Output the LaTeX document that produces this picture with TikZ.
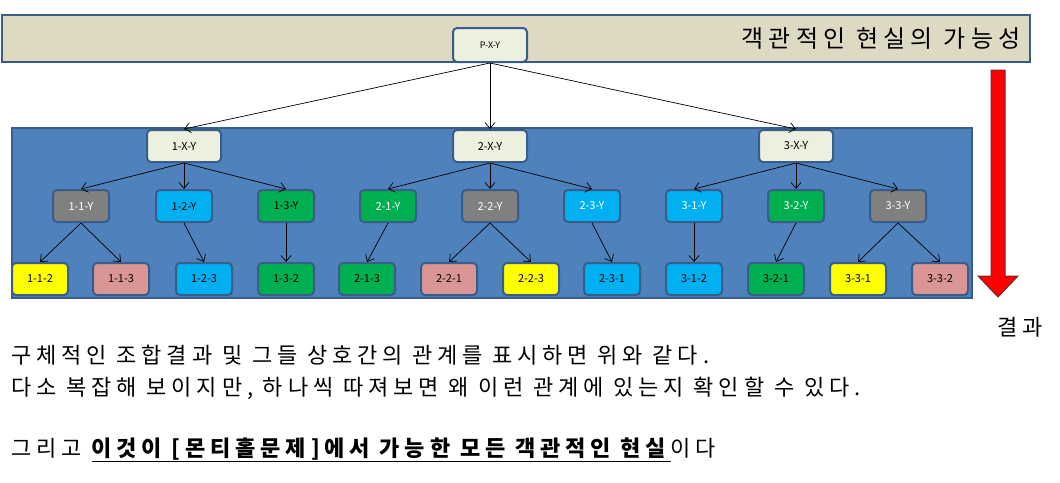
\documentclass[tikz,border=0pt]{standalone}
\usepackage{fontspec}
\setmainfont{Noto Sans CJK KR}
\usetikzlibrary{arrows.meta}
\definecolor{bd}{HTML}{385D8A}
\definecolor{pan}{HTML}{4F81BD}
\definecolor{band}{HTML}{DDD9C3}
\definecolor{lt}{HTML}{EBF1DE}
\definecolor{gr}{HTML}{808080}
\definecolor{bl}{HTML}{00B0F0}
\definecolor{gn}{HTML}{00B050}
\definecolor{ye}{HTML}{FFFF00}
\definecolor{pk}{HTML}{D99694}
\begin{document}
\begin{tikzpicture}[x=1pt,y=-1pt,
 box/.style={draw=bd,line width=2pt,rounded corners=4pt,minimum width=56pt,minimum height=32pt,font=\fontsize{11}{13}\selectfont,inner sep=1pt},
 top/.style={box,fill=lt,minimum width=74pt},
 w/.style={box,text=white},
 k/.style={box,text=black},
 big/.style={font=\fontsize{22}{26}\selectfont\addfontfeature{LetterSpace=22}},
 ar/.style={-{Straight Barb[length=6pt,width=10pt]},line width=0.7pt}]
\useasboundingbox (0,0) rectangle (1060,482);
\draw[draw=bd,fill=band,line width=2.5pt] (2,15) rectangle (1030,62);
\node[anchor=east,font=\fontsize{24}{28}\selectfont\addfontfeature{LetterSpace=22}] (title) at (1024,39) {객관적인 현실의 가능성};
\draw[draw=bd,fill=pan,line width=2.5pt] (12,128) rectangle (972,298);
\node[top,minimum height=34pt,font=\fontsize{9}{10}\selectfont] (P) at (490,45) {P-X-Y};
\node[top] (A) at (184,146) {1-X-Y};
\node[top] (B) at (490,146) {2-X-Y};
\node[top] (C) at (796,146) {3-X-Y};
\node[w,fill=gr] (a1) at (81,206) {1-1-Y};
\node[k,fill=bl] (a2) at (184,206) {1-2-Y};
\node[k,fill=gn] (a3) at (286,206) {1-3-Y};
\node[w,fill=gn] (b1) at (388,206) {2-1-Y};
\node[w,fill=gr] (b2) at (490,206) {2-2-Y};
\node[w,fill=bl] (b3) at (592,206) {2-3-Y};
\node[w,fill=bl] (c1) at (694,206) {3-1-Y};
\node[w,fill=gn] (c2) at (796,206) {3-2-Y};
\node[w,fill=gr] (c3) at (898,206) {3-3-Y};
\node[k,fill=ye] (l1) at (40,279) {1-1-2};
\node[k,fill=pk] (l2) at (121,279) {1-1-3};
\node[k,fill=bl] (l3) at (204,279) {1-2-3};
\node[k,fill=gn] (l4) at (286,279) {1-3-2};
\node[k,fill=gn] (l5) at (367,279) {2-1-3};
\node[k,fill=pk] (l6) at (449,279) {2-2-1};
\node[k,fill=ye] (l7) at (531,279) {2-2-3};
\node[k,fill=bl] (l8) at (612,279) {2-3-1};
\node[k,fill=bl] (l9) at (694,279) {3-1-2};
\node[k,fill=gn] (l10) at (776,279) {3-2-1};
\node[k,fill=ye] (l11) at (858,279) {3-3-1};
\node[k,fill=pk] (l12) at (940,279) {3-3-2};
\foreach \s/\t in {P/A,P/B,P/C,A/a1,A/a2,A/a3,B/b1,B/b2,B/b3,C/c1,C/c2,C/c3,a1/l1,a1/l2,a2/l3,a3/l4,b1/l5,b2/l6,b2/l7,b3/l8,c1/l9,c2/l10,c3/l11,c3/l12}
  \draw[ar] (\s.south) -- (\t.north);
\draw[draw=gray!60!red!60!black,fill=red,line width=1pt] (991,70) -- (1005,70) -- (1005,276) -- (1018,276) -- (998,297) -- (978,276) -- (991,276) -- cycle;
\node[big] (res) at (1020,327) {결과};
\node[anchor=west,big] (t1) at (8,355) {구체적인 조합결과 및 그들 상호간의 관계를 표시하면 위와 같다.};
\node[anchor=west,big] (t2) at (8,388) {다소 복잡해 보이지만, 하나씩 따져보면 왜 이런 관계에 있는지 확인할 수 있다.};
\node[anchor=west,big] (t3) at (8,450) {그리고 \underline{\textbf{이것이 [몬티홀문제]에서 가능한 모든 객관적인 현실}}이다};
\end{tikzpicture}
\end{document}
